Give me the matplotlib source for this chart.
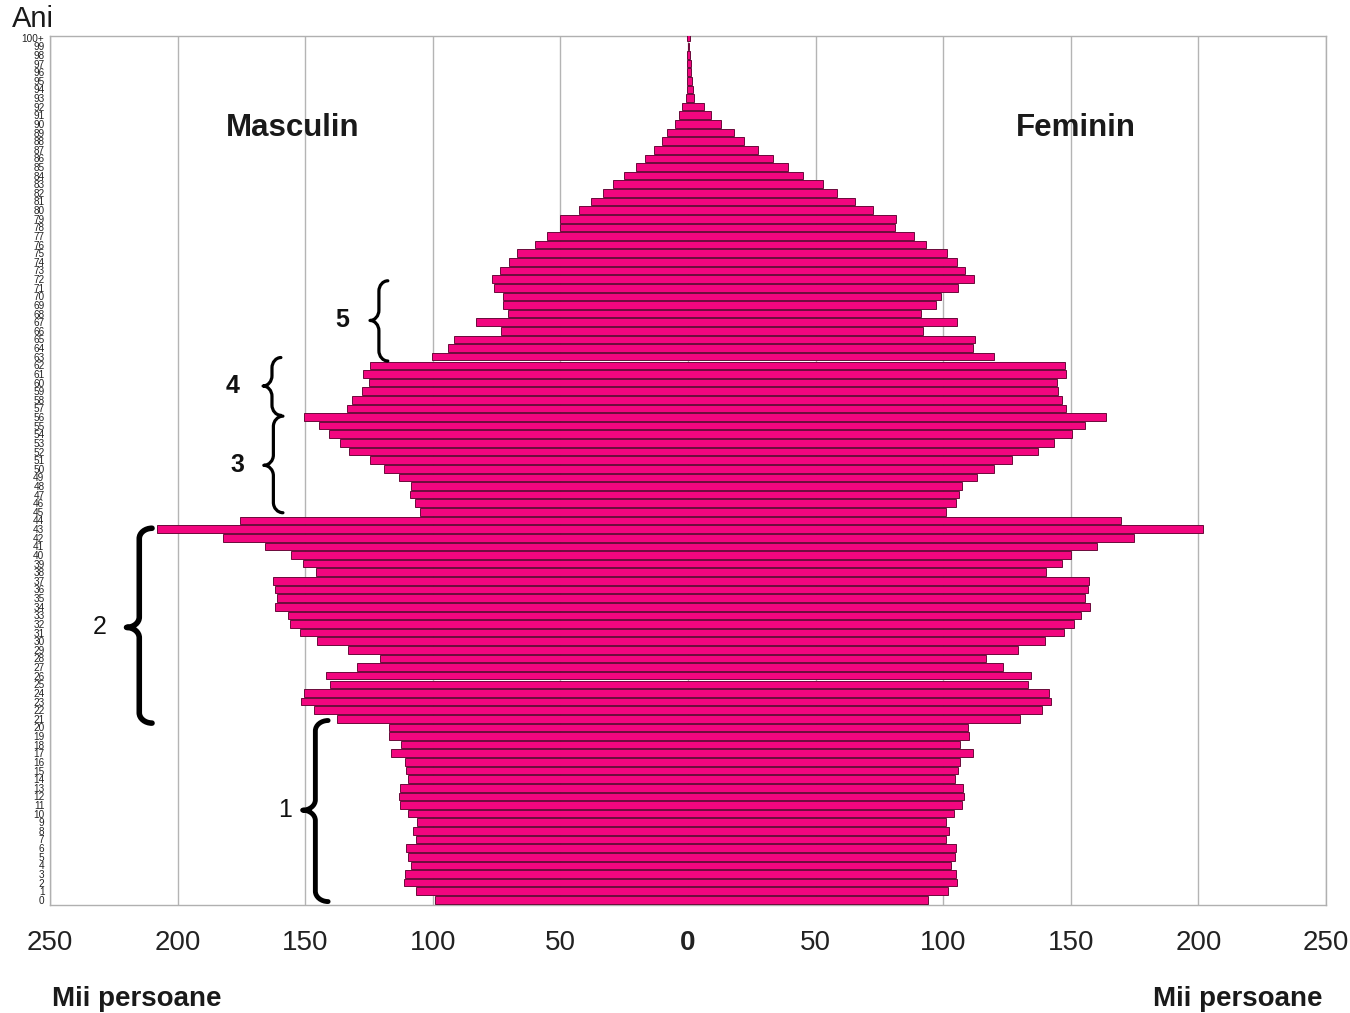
import matplotlib
matplotlib.use("Agg")
import matplotlib.pyplot as plt
from matplotlib.path import Path
from matplotlib.patches import PathPatch
import numpy as np

plt.rcParams['font.family'] = ['Liberation Sans', 'DejaVu Sans']

ages = list(range(0, 101))
age_labels = [str(a) for a in range(0, 100)] + ["100+"]

male = [99.3, 106.7, 111.4, 111, 108.4, 109.8, 110.5, 106.7, 107.7, 106.3,
        109.6, 112.8, 113.3, 113, 109.6, 110.4, 110.9, 116.5, 112.3, 117, 117.2,
        137.7, 146.5, 151.6, 150.5, 140.4, 142, 129.5, 120.5, 133.3, 145.3,
        152, 156, 156.8, 161.8, 160.9, 161.8, 162.5, 145.6, 151, 155.4,
        165.6, 182, 208, 175.6,
        105.1, 107, 108.8, 108.6, 113.3, 119.1, 124.7, 133, 136.5, 140.5,
        144.4, 150.4, 133.5, 131.8, 127.7, 125.1, 127.4, 124.7,
        100.4, 93.9, 91.8, 73.2, 83.2, 70.4, 72.6, 72.6, 76.1, 76.8, 73.7, 70.2, 66.8,
        59.8, 55.1, 50.2, 50.2, 42.8, 38, 33.4, 29.4, 24.9, 20.4, 17, 13.3, 10.2,
        8.1, 5.0, 3.5, 2.2,
        0.6, 0.5, 0.4, 0.35, 0.3, 0.2, 0.15, 0.2]

female = [94.2, 101.8, 105.3, 105, 103, 104.5, 105, 101, 102.1, 101,
          104.1, 107.4, 108.3, 107.9, 104.5, 105.8, 106.6, 111.7, 106.6, 110, 109.6,
          130.2, 138.9, 142.4, 141.6, 133.2, 134.5, 123.4, 116.7, 129.2, 139.9,
          147.2, 151.2, 154.1, 157.6, 155.4, 156.6, 157.1, 140.4, 146.5, 150.2,
          160.2, 174.6, 202, 169.6,
          101, 105, 106.1, 107.4, 113.4, 120, 126.9, 137.3, 143.4, 150.3,
          155.4, 164, 148.3, 146.7, 145, 144.7, 148, 147.7,
          119.8, 111.7, 112.5, 92.2, 105.3, 91.4, 97, 99.2, 105.9, 112.2, 108.7, 105.6, 101.5,
          93.2, 88.4, 81.2, 81.5, 72.4, 65.5, 58.3, 53, 44.9, 39.1, 33.5, 27.6, 21.9,
          18, 13, 9.2, 6.3,
          2.2, 1.8, 1.5, 1.3, 1.0, 0.8, 0.6, 0.8]

x_ticks = [-250, -200, -150, -100, -50, 0, 50, 100, 150, 200, 250]

# braces: (label, age_bottom, age_top, age_mid)
brace_groups = [("1", 0, 20, 10.4), ("2", 21, 43, 31.6), ("3", 45, 56, 50.4),
                ("4", 56, 62, 59.6), ("5", 63, 71, 67.2)]

fig = plt.figure(figsize=(13.5, 10.13), dpi=100)
ax = fig.add_axes([0.037, 0.1066, 0.9452, 0.8579])

bar_color = '#F2067F'
edge_color = '#6a0a3a'
male_arr = np.array(male)
female_arr = np.array(female)
# one continuous bar per age: from -male to +female (no seam at the centre)
ax.barh(ages, male_arr + female_arr, left=-male_arr, height=0.88, color=bar_color,
        edgecolor=edge_color, linewidth=0.7, zorder=3)

ax.set_xlim(-250, 250)
ax.set_ylim(-0.6, 100.2)

ax.set_xticks(x_ticks)
ax.set_xticklabels([str(abs(t)) for t in x_ticks], fontsize=20, color='#222222')
for lab, t in zip(ax.get_xticklabels(), x_ticks):
    if t == 0:
        lab.set_fontweight('bold')
ax.tick_params(axis='x', length=0, pad=18)

ax.set_yticks(ages)
ax.set_yticklabels(age_labels, fontsize=7.2, color='#222222',
                   family=['Liberation Sans Narrow', 'Liberation Sans', 'DejaVu Sans'])
ax.tick_params(axis='y', length=0, pad=4)

for t in x_ticks:
    ax.axvline(t, color='#b4b4b4', linewidth=1.0, zorder=1)

for sp in ax.spines.values():
    sp.set_color('#b0b0b0')
    sp.set_linewidth(1.0)

# Section titles
ax.text(-155, 89.5, "Masculin", fontsize=22.5, fontweight='bold',
        ha='center', va='center', color='#1a1a1a')
ax.text(152, 89.5, "Feminin", fontsize=22.5, fontweight='bold',
        ha='center', va='center', color='#1a1a1a')

fig.text(0.009, 0.981, "Ani", fontsize=21, ha='left', va='center', color='#1a1a1a')
fig.text(0.101, 0.014, "Mii persoane", fontsize=20, fontweight='bold',
         ha='center', va='center', color='#1a1a1a')
fig.text(0.917, 0.014, "Mii persoane", fontsize=20, fontweight='bold',
         ha='center', va='center', color='#1a1a1a')


def brace(ax, x_end, w, y_bot, y_top, y_mid, r, lw):
    xm = x_end - w / 2.0
    xt = x_end - w
    k = 0.45
    verts = [
        (x_end, y_top),
        (xm + k * w / 2, y_top), (xm, y_top - k * r), (xm, y_top - r),
        (xm, y_mid + r),
        (xm, y_mid + k * r), (xm - k * w / 2, y_mid), (xt, y_mid),
        (xm - k * w / 2, y_mid), (xm, y_mid - k * r), (xm, y_mid - r),
        (xm, y_bot + r),
        (xm, y_bot + k * r), (xm + k * w / 2, y_bot), (x_end, y_bot),
    ]
    codes = [Path.MOVETO,
             Path.CURVE4, Path.CURVE4, Path.CURVE4,
             Path.LINETO,
             Path.CURVE4, Path.CURVE4, Path.CURVE4,
             Path.CURVE4, Path.CURVE4, Path.CURVE4,
             Path.LINETO,
             Path.CURVE4, Path.CURVE4, Path.CURVE4]
    p = PathPatch(Path(verts, codes), facecolor='none', edgecolor='black',
                  linewidth=lw, capstyle='round', joinstyle='round', zorder=5,
                  clip_on=False)
    ax.add_patch(p)

brace_geom = {
    "1": dict(x_end=-141, w=10, y_bot=-0.2, y_top=20.8, lw=3.5, lx=-158, fw='normal'),
    "2": dict(x_end=-210, w=10, y_bot=20.5, y_top=43.1, lw=4.0, lx=-230.4, fw='normal'),
    "3": dict(x_end=-158.7, w=7.5, y_bot=44.9, y_top=56.1, lw=2.3, lx=-176.7, fw='bold'),
    "4": dict(x_end=-159.5, w=7.0, y_bot=56.2, y_top=62.9, lw=2.3, lx=-178.3, fw='bold'),
    "5": dict(x_end=-117.6, w=7.0, y_bot=62.5, y_top=71.8, lw=2.3, lx=-135.6, fw='bold'),
}

for lab, a0, a1, amid in brace_groups:
    g = brace_geom[lab]
    brace(ax, g["x_end"], g["w"], g["y_bot"], g["y_top"], amid, 1.2, g["lw"])
    ax.text(g["lx"], amid, lab, fontsize=18, fontweight=g["fw"], ha='center',
            va='center', color='#111111', zorder=6)

fig.savefig("out.png", dpi=100)
